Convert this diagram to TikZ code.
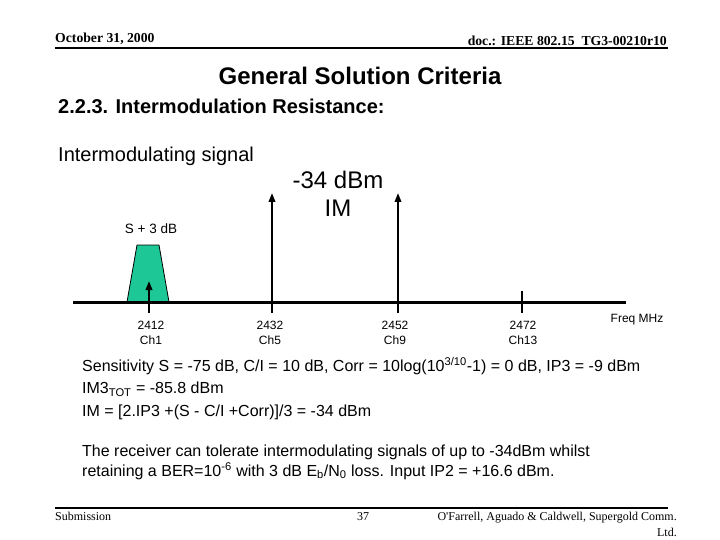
\documentclass[tikz,border=0pt]{standalone}
\usepackage{fontspec}
\setmainfont{Liberation Sans}
\newfontfamily\serifhd{Liberation Serif}
\usetikzlibrary{arrows.meta}
\definecolor{trapgreen}{RGB}{30,200,150}
\tikzset{
  hdr/.style={font=\serifhd\bfseries\fontsize{13.7}{16}\selectfont, inner sep=0pt},
  ftr/.style={font=\serifhd\fontsize{12}{14}\selectfont, inner sep=0pt},
  small/.style={font=\fontsize{12}{14}\selectfont, inner sep=0pt, align=center},
  body/.style={font=\fontsize{16}{23}\selectfont, inner sep=0pt, anchor=west},
  sig/.style={line width=2pt, -{Triangle[length=9pt,width=6.5pt]}},
  tick/.style={line width=2.5pt},
}
\begin{document}
\begin{tikzpicture}[x=1pt,y=-1pt]
\useasboundingbox (0,0) rectangle (720,540);
% header
\node[hdr, anchor=base west] (date) at (55,43) {October 31, 2000};
\node[hdr, anchor=base east] (doc) at (667,46) {doc.: IEEE 802.15\ \ TG3-00210r10};
\draw[line width=2pt] (55,48.5) -- (668,48.5);
% titles
\node[font=\bfseries\fontsize{24}{28}\selectfont, inner sep=0pt] (title) at (360,76) {General Solution Criteria};
\node[font=\bfseries\fontsize{20}{24}\selectfont, inner sep=0pt, anchor=west] (sub) at (58,106) {2.2.3. Intermodulation Resistance:};
\node[font=\fontsize{20}{24}\selectfont, inner sep=0pt, anchor=west] (ims) at (58,156) {Intermodulating signal};
\node[font=\fontsize{24}{28}\selectfont, inner sep=0pt, align=center] (im) at (338,194) {-34 dBm\\IM};
\node[small, font=\fontsize{13.5}{16}\selectfont] (s3) at (151,229) {S + 3 dB};
% trapezoid
\draw[fill=trapgreen, line width=0.8pt] (127,302) -- (137,245) -- (159,245) -- (169,302) -- cycle;
% axis
\coordinate (ax0) at (73,302);
\coordinate (ax1) at (626,302);
\draw[line width=3pt] (ax0) -- (ax1);
% signals
\coordinate (a1b) at (149,313); \coordinate (a1t) at (149,281);
\coordinate (a2b) at (272,313); \coordinate (a2t) at (272,193);
\coordinate (a3b) at (398,313); \coordinate (a3t) at (398,193);
\coordinate (t4b) at (522,313); \coordinate (t4t) at (522,291);
\draw[sig] (a1b) -- (a1t);
\draw[sig] (a2b) -- (a2t);
\draw[sig] (a3b) -- (a3t);
\draw[tick] (t4b) -- (t4t);
% labels
\node[small, font=\fontsize{12}{15}\selectfont] (c1) at (151,333) {2412\\Ch1};
\node[small, font=\fontsize{12}{15}\selectfont] (c5) at (270,333) {2432\\Ch5};
\node[small, font=\fontsize{12}{15}\selectfont] (c9) at (395,333) {2452\\Ch9};
\node[small, font=\fontsize{12}{15}\selectfont] (c13) at (523,333) {2472\\Ch13};
\node[small] (freq) at (637,320) {Freq MHz};
% body
\node[body] (l1) at (82,366) {Sensitivity S = -75 dB, C/I = 10 dB, Corr = 10log(10\textsuperscript{3/10}-1) = 0 dB, IP3 = -9 dBm};
\node[body] (l2) at (82,389) {IM3\textsubscript{TOT} = -85.8 dBm};
\node[body] (l3) at (82,412) {IM = [2.IP3 +(S - C/I +Corr)]/3 = -34 dBm};
\node[body] (l4) at (82,452) {The receiver can tolerate intermodulating signals of up to -34dBm whilst};
\node[body] (l5) at (82,471) {retaining a BER=10\textsuperscript{-6} with 3 dB E\textsubscript{b}/N\textsubscript{0} loss. Input IP2 = +16.6 dBm.};
% footer
\draw[line width=2pt] (55,508) -- (668,508);
\node[ftr, anchor=base west] (subm) at (55,520) {Submission};
\node[ftr, anchor=base] (pg) at (363,520) {37};
\node[ftr, anchor=base east] (auth) at (677,520) {O'Farrell, Aguado \& Caldwell, Supergold Comm.};
\node[ftr, anchor=base east] (ltd) at (677,536) {Ltd.};
\end{tikzpicture}
\end{document}
